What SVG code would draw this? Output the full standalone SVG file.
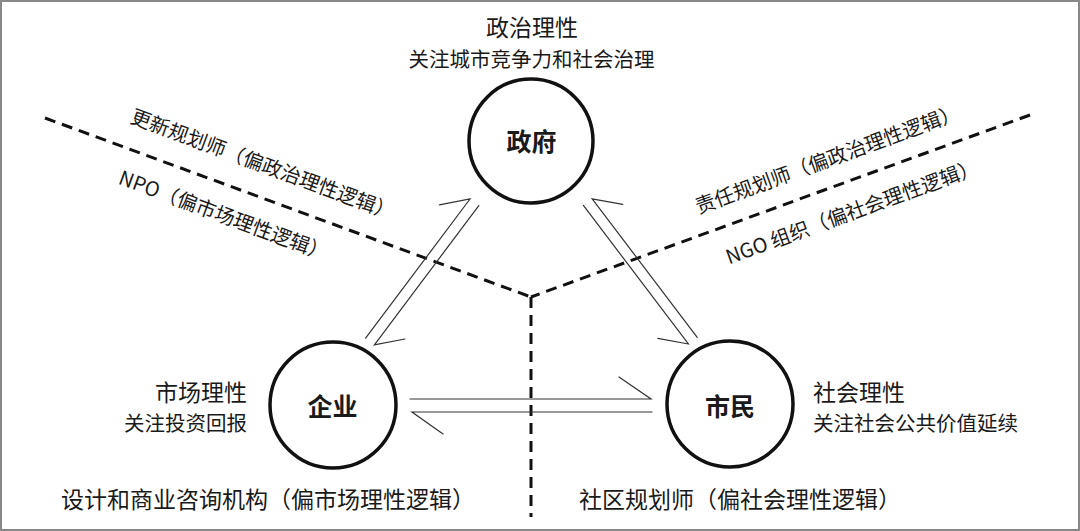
<svg xmlns="http://www.w3.org/2000/svg" width="1080" height="531" viewBox="0 0 1080 531">
<style>
text{font-family:"Noto Sans CJK SC","Noto Sans",sans-serif;fill:#1a1a1a}
.node{fill:#fff;stroke:#111;stroke-width:3.5}
.nl{font-size:25px;font-weight:700;text-anchor:middle}
.t1{font-size:23px}
.t2{font-size:20.5px}
.rt{font-size:20px;text-anchor:middle}
.bt{font-size:23px;text-anchor:middle}
.dash{fill:none;stroke:#111;stroke-width:3;stroke-dasharray:11 7}
.arr{fill:none;stroke:#333;stroke-width:1.2;stroke-linecap:round;stroke-linejoin:miter}
</style>
<rect x="1" y="1" width="1078" height="529" fill="#fff" stroke="#888" stroke-width="2"/>

<g id="dividers">
<path class="dash" d="M45 118 L531 297"/>
<path class="dash" d="M1030 115 L531 297"/>
<path class="dash" d="M531 297 L531 517"/>
</g>

<g id="connectors">
<path class="arr" d="M365.6 338.2 L470 199 L439.4 204.8"/>
<path class="arr" d="M478.8 205.6 L374.4 344.8 L405 339"/>
<path class="arr" d="M697.2 337.4 L592.2 198.8 L622.8 204.4"/>
<path class="arr" d="M583.4 205.4 L688.4 344 L657.8 338.4"/>
<path class="arr" d="M410 399 L651 399 L619 377"/>
<path class="arr" d="M652 412 L412 412 L443 434"/>
</g>

<g id="labels">
<text class="rt" transform="translate(263,164) rotate(20.4)" y="7.6">更新规划师（偏政治理性逻辑）</text>
<text class="rt" transform="translate(224,215) rotate(20.4)" y="7.6">NPO（偏市场理性逻辑）</text>
<text class="rt" transform="translate(827.5,159) rotate(-20)" y="7.6">责任规划师（偏政治理性逻辑）</text>
<text class="rt" transform="translate(852,211.5) rotate(-20)" y="7.6">NGO 组织（偏社会理性逻辑）</text>
<text class="bt" x="268" y="507.5">设计和商业咨询机构（偏市场理性逻辑）</text>
<text class="bt" x="740" y="507.5">社区规划师（偏社会理性逻辑）</text>
</g>

<g id="node-gov">
<circle class="node" cx="531" cy="141" r="62"/>
<text class="nl" x="531.5" y="150.5">政府</text>
<text class="t1" x="532" y="36" text-anchor="middle">政治理性</text>
<text class="t2" x="531.5" y="66.6" text-anchor="middle">关注城市竞争力和社会治理</text>
</g>

<g id="node-enterprise">
<circle class="node" cx="333" cy="405" r="63"/>
<text class="nl" x="332.5" y="415.5">企业</text>
<text class="t1" x="247" y="400.7" text-anchor="end">市场理性</text>
<text class="t2" x="247" y="430.6" text-anchor="end">关注投资回报</text>
</g>

<g id="node-citizen">
<circle class="node" cx="730" cy="404" r="63"/>
<text class="nl" x="730" y="415.5">市民</text>
<text class="t1" x="813" y="400.7">社会理性</text>
<text class="t2" x="813" y="430.6">关注社会公共价值延续</text>
</g>
</svg>
